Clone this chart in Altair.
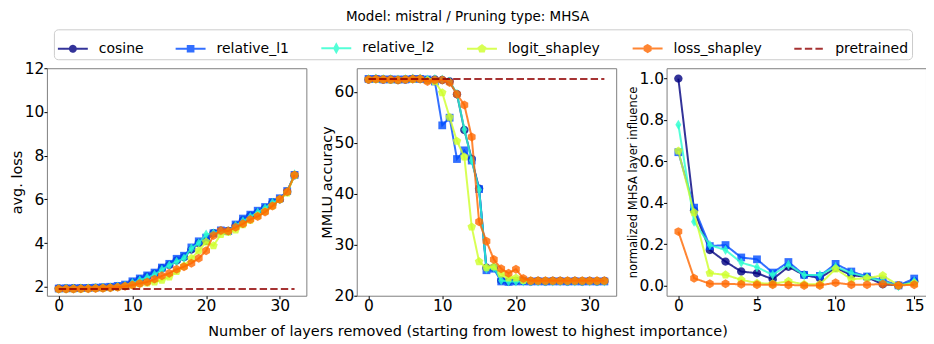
import altair as alt
import pandas as pd

methods = ["cosine", "relative_l1", "relative_l2", "logit_shapley", "loss_shapley", "pretrained"]
colors = ["#000080", "#004cff", "#29ffce", "#ceff29", "#ff6800", "#900000"]

# ---- panel 1: avg. loss vs layers removed
layers_removed = list(range(33))
loss_cosine = [1.92, 1.92, 1.93, 1.93, 1.94, 1.95, 1.96, 1.98, 2.0, 2.05, 2.2, 2.33, 2.47, 2.6, 2.85, 3.0, 3.2,
               3.35, 3.7, 4.0, 4.1, 4.45, 4.55, 4.55, 4.8, 5.05, 5.25, 5.4, 5.6, 5.85, 6.0, 6.35, 7.1]
loss_relative_l1 = [1.92, 1.93, 1.93, 1.94, 1.95, 1.96, 1.98, 2.0, 2.04, 2.1, 2.25, 2.38, 2.52, 2.65, 2.88, 3.05, 3.28,
                    3.42, 3.8, 4.08, 4.25, 4.45, 4.58, 4.55, 4.85, 5.12, 5.3, 5.48, 5.65, 5.88, 6.05, 6.38, 7.12]
loss_relative_l2 = [1.91, 1.92, 1.92, 1.93, 1.94, 1.95, 1.96, 1.98, 2.01, 2.06, 2.18, 2.3, 2.42, 2.55, 2.78, 2.98, 3.15,
                    3.3, 3.75, 4.0, 4.4, 4.45, 4.55, 4.55, 4.8, 5.0, 5.2, 5.4, 5.6, 5.85, 6.0, 6.35, 7.15]
loss_logit_shapley = [1.9, 1.9, 1.91, 1.91, 1.92, 1.93, 1.94, 1.96, 1.98, 2.02, 2.08, 2.14, 2.18, 2.22, 2.3, 2.45, 2.7,
                      2.95, 3.3, 3.65, 4.05, 3.88, 4.4, 4.5, 4.6, 4.85, 5.05, 5.25, 5.45, 5.7, 6.0, 6.3, 7.1]
loss_loss_shapley = [1.9, 1.9, 1.9, 1.91, 1.91, 1.92, 1.93, 1.95, 1.98, 2.02, 2.08, 2.15, 2.22, 2.35, 2.5, 2.62, 2.8,
                     2.92, 3.08, 3.3, 3.65, 4.35, 4.58, 4.55, 4.72, 4.88, 5.08, 5.22, 5.42, 5.7, 6.0, 6.35, 7.12]
loss_pretrained = 1.9

# ---- panel 2: MMLU accuracy vs layers removed
acc_cosine = [62.4, 62.5, 62.4, 62.4, 62.3, 62.4, 62.5, 62.5, 62.3, 62.4, 62.3, 62.0, 59.5, 52.5, 46.8, 41.0, 25.5,
              25.5, 23.0, 22.8, 22.9, 22.9, 22.8, 22.9, 22.8, 22.9, 22.9, 22.8, 22.9, 22.8, 22.9, 22.8, 22.9]
acc_relative_l1 = [62.5, 62.5, 62.4, 62.4, 62.4, 62.4, 62.5, 62.5, 62.4, 62.0, 53.4, 54.9, 46.8, 48.5, 46.5, 40.9, 25.0,
                   25.3, 22.8, 22.7, 22.8, 22.8, 22.8, 22.8, 22.8, 22.8, 22.8, 22.8, 22.8, 22.8, 22.8, 22.8, 22.8]
acc_relative_l2 = [62.5, 62.6, 62.5, 62.5, 62.4, 62.5, 62.6, 62.6, 62.4, 62.5, 62.4, 62.0, 59.6, 52.6, 46.5, 40.8, 25.3,
                   25.5, 23.0, 22.8, 22.8, 22.8, 22.8, 22.8, 22.8, 22.8, 22.8, 22.8, 22.8, 22.8, 22.8, 22.8, 22.8]
acc_logit_shapley = [62.4, 62.4, 62.4, 62.3, 62.3, 62.4, 62.4, 62.5, 62.2, 62.0, 59.8, 55.0, 50.3, 47.2, 33.5, 26.7,
                     25.5, 25.7, 24.3, 23.5, 23.5, 23.0, 22.9, 22.9, 22.9, 22.9, 22.9, 22.9, 22.9, 22.9, 22.9, 22.9, 22.9]
acc_loss_shapley = [62.4, 62.5, 62.4, 62.4, 62.3, 62.4, 62.5, 62.5, 62.0, 62.3, 62.3, 61.8, 59.5, 57.4, 51.1, 34.5,
                    30.7, 27.1, 25.3, 24.4, 25.2, 23.4, 22.95, 22.95, 22.95, 22.95, 22.95, 22.95, 22.95, 22.95, 22.95,
                    22.95, 22.95]
acc_pretrained = 62.5

# ---- panel 3: normalized MHSA layer influence per layer
layer_index = list(range(16))
infl_cosine = [1.0, 0.363, 0.171, 0.115, 0.067, 0.059, 0.03, 0.09, 0.05, 0.035, 0.085, 0.05, 0.04, 0.005, 0.0, 0.02]
infl_relative_l1 = [0.644, 0.376, 0.19, 0.195, 0.135, 0.126, 0.062, 0.113, 0.051, 0.046, 0.104, 0.067, 0.043, 0.025,
                    0.0, 0.033]
infl_relative_l2 = [0.777, 0.308, 0.195, 0.171, 0.11, 0.088, 0.051, 0.10, 0.05, 0.05, 0.09, 0.06, 0.04, 0.02, -0.005,
                    0.02]
infl_logit_shapley = [0.65, 0.352, 0.059, 0.051, 0.027, 0.011, 0.008, 0.02, 0.005, 0.005, 0.08, 0.03, 0.035, 0.048,
                      0.0, 0.01]
infl_loss_shapley = [0.26, 0.035, 0.008, 0.008, 0.005, 0.003, 0.003, 0.002, 0.0, 0.0, 0.013, 0.003, 0.003, 0.007, 0.0,
                     0.003]

title_text = "Model: mistral / Pruning type: MHSA"
x_title = "Number of layers removed (starting from lowest to highest importance)"

FONT = "DejaVu Sans"

# marker shapes in unit coordinates (drawn with size 900 -> 1 unit = 15 px)
marker_paths = [
    "M0.28,0A0.28,0.28,0,1,1,-0.28,0A0.28,0.28,0,1,1,0.28,0Z",           # circle
    "M-0.26,-0.26H0.26V0.26H-0.26Z",                                     # square
    "M0,-0.33L0.2,0L0,0.33L-0.2,0Z",                                     # thin diamond
    "M0,-0.3L0.285,-0.093L0.176,0.243L-0.176,0.243L-0.285,-0.093Z",      # pentagon
    "M0,-0.3L0.26,-0.15L0.26,0.15L0,0.3L-0.26,0.15L-0.26,-0.15Z",         # hexagon
]
# legend symbols: horizontal line + smaller marker (stroke adds the outline)
legend_paths = [
    "M-1,0H1M0.2,0A0.2,0.2,0,1,1,-0.2,0A0.2,0.2,0,1,1,0.2,0Z",
    "M-1,0H1M-0.19,-0.19H0.19V0.19H-0.19Z",
    "M-1,0H1M0,-0.26L0.14,0L0,0.26L-0.14,0Z",
    "M-1,0H1M0,-0.23L0.219,-0.071L0.135,0.186L-0.135,0.186L-0.219,-0.071Z",
    "M-1,0H1M0,-0.23L0.2,-0.115L0.2,0.115L0,0.23L-0.2,0.115L-0.2,-0.115Z",
    "M-1,0H1",
]
dashes = [[1, 0]] * 5 + [[7.4, 3.2]]


def long_frame(x, series):
    rows = []
    for m, vals in zip(methods, series):
        if vals is None:
            continue
        for xi, v in zip(x, vals):
            rows.append({"x": xi, "y": v, "method": m})
    return pd.DataFrame(rows)


df_loss = long_frame(layers_removed, [loss_cosine, loss_relative_l1, loss_relative_l2, loss_logit_shapley,
                                      loss_loss_shapley, [loss_pretrained] * len(layers_removed)])
df_acc = long_frame(layers_removed, [acc_cosine, acc_relative_l1, acc_relative_l2, acc_logit_shapley,
                                     acc_loss_shapley, [acc_pretrained] * len(layers_removed)])
df_infl = long_frame(layer_index, [infl_cosine, infl_relative_l1, infl_relative_l2, infl_logit_shapley,
                                   infl_loss_shapley, None])

legend_spec = alt.Legend(orient="none", legendX=7, legendY=-39, direction="horizontal", columns=6, title=None,
                         symbolSize=900, symbolStrokeWidth=2, symbolOpacity=0.8, labelFontSize=14, labelFont=FONT,
                         labelColor="black", labelOffset=10, columnPadding=28, padding=3, strokeColor="#cccccc",
                         cornerRadius=4, fillColor="white")

PW, PH = 260, 228


def panel(df, xdom, xvals, ydom, yvals, yfmt, ytitle, ytitle_size, xaxis_title=None, with_legend=False):
    xaxis_kw = dict(values=xvals, title=xaxis_title if xaxis_title else None)
    if xaxis_title:
        xaxis_kw.update(titleX=111, titlePadding=10, titleFontSize=14.5)
    xenc = alt.X("x:Q", scale=alt.Scale(domain=xdom, nice=False, zero=False), axis=alt.Axis(**xaxis_kw))
    yenc = alt.Y("y:Q", scale=alt.Scale(domain=ydom, nice=False, zero=False),
                 axis=alt.Axis(values=yvals, format=yfmt, title=ytitle, titleFontSize=ytitle_size, titlePadding=0))
    layers = []
    present = list(df["method"].unique())
    for i, m in enumerate(methods):
        if m not in present:
            continue
        base = alt.Chart(df).transform_filter(alt.datum.method == m)
        layers.append(base.mark_line(strokeWidth=2, opacity=0.8, color=colors[i], strokeDash=dashes[i]).encode(
            x=xenc, y=yenc))
        if m != "pretrained":
            layers.append(base.mark_point(filled=True, size=900, opacity=0.8, color=colors[i],
                                          shape=marker_paths[i]).encode(x=xenc, y=yenc))
    if with_legend:
        legend_layer = alt.Chart(df).transform_filter("false").mark_point(filled=True, opacity=0.8).encode(
            x=xenc, y=yenc,
            fill=alt.Fill("method:N", scale=alt.Scale(domain=methods, range=colors), legend=legend_spec),
            stroke=alt.Stroke("method:N", scale=alt.Scale(domain=methods, range=colors), legend=legend_spec),
            shape=alt.Shape("method:N", scale=alt.Scale(domain=methods, range=legend_paths), legend=legend_spec),
            strokeDash=alt.StrokeDash("method:N", scale=alt.Scale(domain=methods, range=dashes), legend=legend_spec),
        )
        layers.append(legend_layer)
    return alt.layer(*layers).properties(width=PW, height=PH)


p1 = panel(df_loss, [-1.6, 33.6], [0, 10, 20, 30], [1.59, 12], [2, 4, 6, 8, 10, 12], "d", "avg. loss", 14.5,
           with_legend=True)
p2 = panel(df_acc, [-1.6, 33.6], [0, 10, 20, 30], [20, 64.6], [20, 30, 40, 50, 60], "d", "MMLU accuracy", 14.5,
           xaxis_title=x_title)
p3 = panel(df_infl, [-0.75, 15.75], [0, 5, 10, 15], [-0.05, 1.05], [0.0, 0.2, 0.4, 0.6, 0.8, 1.0], ".1f",
           "normalized MHSA layer influence", 11.6)

chart = alt.hconcat(p1, p2, p3, spacing=50.5, bounds="flush").properties(
    title=alt.TitleParams(title_text, fontSize=13.5, font=FONT, fontWeight="normal", anchor="middle", offset=5,
                          color="black"),
    padding={"top": 2, "left": 0, "right": -1, "bottom": 0},
).configure_view(stroke="#808080", strokeWidth=1).configure_axis(
    labelFont=FONT, titleFont=FONT, labelColor="black", titleColor="black", tickColor="black", grid=False,
    domain=False, labelFontSize=15.5, titleFontSize=14.5, titleFontWeight="normal", tickSize=3, labelPadding=0
)

chart.save("out.html", embed_options={"renderer": "svg", "actions": False})
